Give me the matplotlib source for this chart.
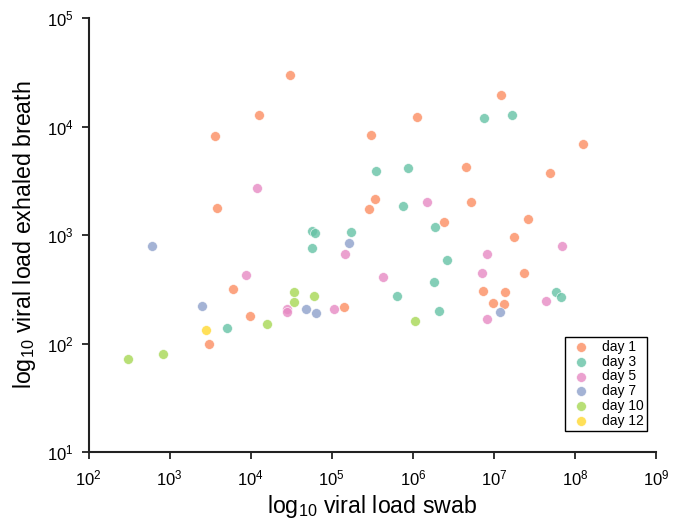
import matplotlib
matplotlib.use("Agg")
import matplotlib.pyplot as plt
import numpy as np

plt.rcParams['font.family'] = ['Liberation Sans', 'DejaVu Sans']
plt.rcParams['mathtext.fontset'] = 'custom'
plt.rcParams['mathtext.rm'] = 'Liberation Sans'
plt.rcParams['mathtext.it'] = 'Liberation Sans:italic'
plt.rcParams['mathtext.bf'] = 'Liberation Sans:bold'

days = ["day 1", "day 3", "day 5", "day 7", "day 10", "day 12"]
colors = ["#fc8d62", "#66c2a5", "#e78ac3", "#8da0cb", "#a6d854", "#ffd92f"]

day1_swab = [3.07e4, 1.26e4, 3.59e3, 3.08e5, 3.80e3, 3.43e5, 2.91e5, 1.11e6, 1.23e7,
             1.27e8, 4.54e6, 4.93e7, 5.24e6, 2.43e6, 2.62e7, 1.77e7, 6.04e3, 9.68e3,
             3.05e3, 1.40e5, 2.36e7, 7.36e6, 1.36e7, 9.62e6, 1.34e7]
day1_breath = [2.96e4, 1.28e4, 8.17e3, 8.36e3, 1.76e3, 2.13e3, 1.74e3, 1.22e4, 1.96e4,
               6.86e3, 4.24e3, 3.71e3, 2.03e3, 1.33e3, 1.40e3, 953, 318, 178,
               98.9, 218, 444, 307, 298, 234, 233]

day3_swab = [3.53e5, 8.61e5, 7.57e6, 1.65e7, 7.54e5, 1.88e6, 5.64e4, 6.24e4, 1.71e5,
             5.69e4, 2.62e6, 1.82e6, 6.40e5, 5.85e7, 6.75e7, 2.09e6, 5.05e3]
day3_breath = [3.89e3, 4.15e3, 1.20e4, 1.28e4, 1.86e3, 1.19e3, 1.08e3, 1.04e3, 1.07e3,
               759, 592, 366, 276, 300, 270, 200, 139]

day5_swab = [1.19e4, 1.48e6, 1.45e5, 8.81e3, 4.23e5, 2.82e4, 2.82e4, 1.06e5, 8.24e6,
             7.01e7, 7.16e6, 4.40e7, 8.34e6]
day5_breath = [2.71e3, 2.01e3, 673, 425, 407, 208, 197, 206, 673,
               787, 444, 248, 169]

day7_swab = [610, 1.64e5, 2.52e3, 4.80e4, 6.31e4, 1.19e7]
day7_breath = [793, 849, 222, 208, 190, 194]

day10_swab = [3.44e4, 6.01e4, 3.44e4, 1.60e4, 306, 834, 1.06e6]
day10_breath = [297, 276, 240, 150, 72.4, 79.4, 162]

day12_swab = [2.83e3]
day12_breath = [133]

series = [(day1_swab, day1_breath), (day3_swab, day3_breath), (day5_swab, day5_breath),
          (day7_swab, day7_breath), (day10_swab, day10_breath), (day12_swab, day12_breath)]

fig = plt.figure(figsize=(6.81, 5.23), dpi=100)
ax = fig.add_axes([88.6/681, 1-452/523, (656-88.6)/681, (452-18)/523])

for (xs, ys), lab, c in zip(series, days, colors):
    ax.scatter(xs, ys, s=50, color=c, alpha=0.8, edgecolor='white', linewidth=0.5,
               label=lab, zorder=3)

ax.set_xscale('log')
ax.set_yscale('log')
ax.set_xlim(1e2, 1e9)
ax.set_ylim(1e1, 1e5)
ax.minorticks_off()
ax.set_xticks([10.0**k for k in range(2, 10)])
ax.set_yticks([10.0**k for k in range(1, 6)])

for s in ['top', 'right']:
    ax.spines[s].set_visible(False)
for s in ['left', 'bottom']:
    ax.spines[s].set_linewidth(1.5)
    ax.spines[s].set_color('#222222')
ax.tick_params(which='major', direction='out', length=5, width=1.3, color='#222222',
               labelsize=12)
ax.tick_params(axis='x', pad=7)
ax.tick_params(axis='y', pad=6)

ax.set_xlabel('log$_{10}$ viral load swab', fontsize=16.7, labelpad=3)
ax.set_ylabel('log$_{10}$ viral load exhaled breath', fontsize=16.7, labelpad=6)

leg = ax.legend(loc='lower right', bbox_to_anchor=(647.3/681, 1-431/523),
                bbox_transform=fig.transFigure, borderaxespad=0, fontsize=10,
                frameon=True, fancybox=False, edgecolor='black', framealpha=1,
                labelspacing=0.05, handletextpad=0.62, borderpad=0.25, handlelength=1.8)
leg.get_frame().set_linewidth(1.0)

fig.savefig('out.png', dpi=100)
